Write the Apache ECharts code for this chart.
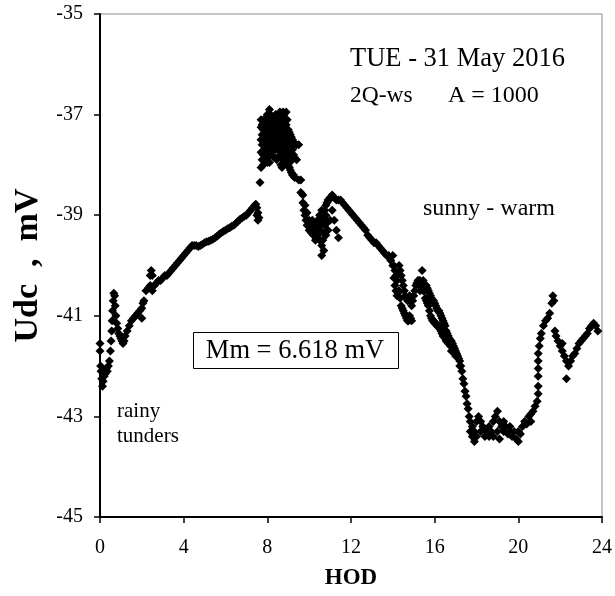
<!DOCTYPE html>
<html>
<head>
<meta charset="utf-8">
<script src="https://cdn.jsdelivr.net/npm/echarts@6/dist/echarts.min.js"></script>
<style>
  html, body { margin: 0; padding: 0; background: #fff; }
  #chart { width: 615px; height: 596px; }
</style>
</head>
<body>
<div id="chart"></div>
<script>
// Hour of day for each group of readings
const hod = [
  0, 0.03, 0.05, 0.08, 0.12, 0.15, 0.2, 0.25, 0.3, 0.35,
  0.4, 0.45, 0.5, 0.53, 0.56, 0.58, 0.6, 0.63, 0.66, 0.7,
  0.73, 0.76, 0.8, 0.85, 0.9, 0.95, 1.0, 1.05, 1.1, 1.15,
  1.2, 1.3, 1.4, 1.5, 1.6, 1.7, 1.8, 1.9, 2.0, 2.05,
  2.1, 2.2, 2.3, 2.4, 2.45, 2.5, 2.6, 2.7, 2.8, 2.9,
  3.0, 3.1, 3.2, 3.3, 3.4, 3.5, 3.6, 3.7, 3.8, 3.9,
  4.0, 4.1, 4.2, 4.3, 4.4, 4.5, 4.6, 4.7, 4.8, 4.9,
  5.0, 5.1, 5.2, 5.3, 5.4, 5.5, 5.6, 5.7, 5.8, 5.9,
  6.0, 6.1, 6.2, 6.3, 6.4, 6.5, 6.6, 6.7, 6.8, 6.9,
  7.0, 7.1, 7.2, 7.3, 7.4, 7.45, 7.5, 7.55, 7.6, 7.65,
  7.7, 7.75, 7.8, 7.85, 7.9, 7.95, 8.0, 8.05, 8.1, 8.15,
  8.2, 8.25, 8.3, 8.35, 8.4, 8.45, 8.5, 8.55, 8.6, 8.65,
  8.7, 8.75, 8.8, 8.85, 8.9, 8.95, 9.0, 9.05, 9.1, 9.15,
  9.2, 9.25, 9.3, 9.4, 9.5,
  9.6, 9.7, 9.75, 9.8, 9.85, 9.9, 10.0, 10.1, 10.2, 10.3,
  10.4, 10.5, 10.6, 10.7, 10.8, 10.9, 11.0, 11.1, 11.2, 11.3,
  11.4, 11.5, 11.6, 11.7, 11.8, 11.9, 12.0, 12.1, 12.2, 12.3,
  12.4, 12.5, 12.6, 12.7, 12.8, 12.9, 13.0, 13.1, 13.2, 13.3,
  13.4, 13.5, 13.6, 13.7, 13.8, 13.9, 14.0, 14.1, 14.2, 14.3,
  14.4, 14.5, 14.6, 14.7, 14.8, 14.9, 15.0, 15.1, 15.2, 15.3,
  15.4, 15.5, 15.6, 15.7, 15.8, 15.9, 16.0, 16.1, 16.2, 16.3,
  16.4, 16.5, 16.6, 16.7, 16.8, 16.9, 17.0, 17.1, 17.2, 17.3,
  17.35, 17.4, 17.45, 17.5, 17.55, 17.6, 17.65, 17.7, 17.8, 17.9,
  18.0, 18.1, 18.2, 18.3, 18.4, 18.5, 18.6, 18.7, 18.8, 18.9,
  19.0, 19.1, 19.2, 19.3, 19.4, 19.5, 19.6, 19.7, 19.8, 19.9,
  20.0, 20.1, 20.2, 20.3, 20.4, 20.5, 20.6, 20.7, 20.8, 20.9,
  20.95, 21.0, 21.05, 21.1, 21.2, 21.3, 21.4, 21.5, 21.6, 21.65,
  21.7, 21.75, 21.8, 21.9, 22.0, 22.1, 22.2, 22.3, 22.4, 22.5,
  22.6, 22.7, 22.8, 22.9, 23.0, 23.1, 23.2, 23.3, 23.4, 23.5,
  23.6, 23.7, 23.8
];

// Udc readings (mV) taken at each hour above
const udc = [
  [-41.55, -41.7], [-42.0], [-42.1], [-42.25], [-42.4], [-42.3], [-42.2], [-42.15], [-42.05], [-42.1],
  [-42.0], [-41.9], [-41.7], [-41.5], [-41.3], [-41.1], [-40.9], [-40.7], [-40.55], [-40.6],
  [-40.8], [-41.0], [-41.15], [-41.25], [-41.35], [-41.4], [-41.45], [-41.5], [-41.55], [-41.5],
  [-41.4], [-41.3], [-41.2], [-41.1], [-41.05], [-41.0], [-40.95], [-40.9], [-40.85, -41.05], [-40.75],
  [-40.7], [-40.5], [-40.45], [-40.4, -40.2], [-40.1], [-40.2, -40.5], [-40.4], [-40.35], [-40.3], [-40.3],
  [-40.25], [-40.2], [-40.2], [-40.15], [-40.1], [-40.05], [-40.0], [-39.95], [-39.9], [-39.85],
  [-39.8], [-39.75], [-39.7], [-39.65], [-39.6], [-39.6], [-39.6], [-39.62], [-39.6], [-39.58],
  [-39.55], [-39.53], [-39.52], [-39.5], [-39.48], [-39.45], [-39.42], [-39.38], [-39.35], [-39.32],
  [-39.3], [-39.27], [-39.25], [-39.22], [-39.2], [-39.16], [-39.12], [-39.08], [-39.05], [-39.02],
  [-39.0], [-38.95], [-38.9], [-38.85], [-38.8], [-38.78], [-38.85, -39.0], [-38.95, -39.1], [-39.05], [-38.35],
  [-38.05, -37.75, -37.5, -37.25, -37.1], [-37.2, -37.4, -37.6, -37.9], [-37.2, -37.3, -37.5, -37.8, -38.0],
  [-37.15, -37.45, -37.7], [-37.1, -37.35, -37.6, -37.9], [-37.05, -37.3, -37.55, -37.8],
  [-37.0, -37.25, -37.45, -37.7, -37.95], [-37.1, -37.35, -37.6, -37.85], [-36.9, -37.2, -37.4, -37.65, -37.95],
  [-37.0, -37.3, -37.55, -37.75],
  [-37.05, -37.3, -37.5, -37.8], [-37.2, -37.45, -37.7], [-37.15, -37.35, -37.6, -37.85],
  [-37.05, -37.3, -37.5], [-37.0, -37.25, -37.45, -37.7], [-37.15, -37.4, -37.65, -37.9],
  [-37.05, -37.3, -37.55, -37.85], [-37.0, -37.2, -37.45, -37.7], [-36.95, -37.15, -37.4, -37.6],
  [-37.05, -37.25, -37.5, -37.75, -38.0],
  [-37.1, -37.3, -37.55, -37.8, -38.05], [-36.95, -37.2, -37.4, -37.65, -37.9], [-37.0, -37.25, -37.45, -37.7, -37.95],
  [-37.1, -37.35, -37.6, -37.85], [-36.95, -37.2, -37.5, -37.75], [-37.1, -37.35, -37.6, -37.9],
  [-37.3, -37.5, -37.7, -38.0], [-37.35, -37.55, -37.8, -38.05], [-37.4, -37.6, -37.85, -38.1],
  [-37.45, -37.65, -37.9, -38.15],
  [-37.5, -37.7, -37.9, -38.2], [-37.55, -37.8, -38.2], [-37.6, -37.85, -38.25], [-37.6, -37.9], [-37.6, -38.3],
  [-38.3, -38.55], [-38.6, -38.75], [-38.9], [-39.0, -38.8], [-39.1], [-39.2, -38.95], [-39.3, -39.1], [-39.35, -39.2], [-39.4, -39.2], [-39.3, -39.5],
  [-39.2, -39.4, -39.1], [-39.5, -39.3, -39.0], [-39.8, -39.6, -39.2, -38.9], [-39.7, -39.35, -39.05], [-39.4, -39.0, -38.8],
  [-39.3, -38.7], [-39.1, -38.65], [-38.6, -38.9], [-38.65, -39.1], [-38.7, -39.3],
  [-38.7, -39.45], [-38.7], [-38.75], [-38.8], [-38.85], [-38.9], [-38.95], [-39.0], [-39.05], [-39.1],
  [-39.15], [-39.2], [-39.25], [-39.3], [-39.4], [-39.45], [-39.5], [-39.55], [-39.55], [-39.6],
  [-39.65], [-39.7], [-39.75], [-39.8], [-39.8], [-39.9], [-39.8, -40.0], [-40.1, -40.4], [-40.3, -40.6], [-40.0, -40.5],
  [-40.2, -40.8], [-40.4, -40.9], [-40.6, -41.0], [-40.7, -41.1], [-40.6, -41.0], [-40.8, -41.1], [-40.6], [-40.4], [-40.3], [-40.3, -40.5],
  [-40.1, -40.45], [-40.5], [-40.4, -40.7], [-40.5, -40.8], [-40.6, -41.0], [-40.7, -41.1], [-40.75, -41.15], [-40.85, -41.2], [-40.9, -41.2], [-41.0, -41.3],
  [-41.1, -41.4], [-41.2, -41.45], [-41.35, -41.5], [-41.45], [-41.5, -41.7], [-41.6], [-41.7, -41.8], [-41.8], [-41.9, -42.0], [-42.1],
  [-42.25], [-42.35], [-42.5], [-42.6], [-42.75], [-42.85], [-43.0], [-43.1, -43.3], [-43.4, -43.2], [-43.5, -43.3],
  [-43.1, -43.4], [-43.0], [-43.1, -43.3], [-43.2], [-43.25, -43.4], [-43.3], [-43.4, -43.2], [-43.3], [-43.1, -43.4], [-43.0],
  [-42.9, -43.3], [-43.1, -43.45], [-43.2], [-43.3, -43.1], [-43.2], [-43.35], [-43.3, -43.2], [-43.4], [-43.3], [-43.45],
  [-43.5, -43.3], [-43.35], [-43.2], [-43.1], [-43.15], [-43.0], [-42.95, -43.1], [-42.9], [-42.8], [-42.7],
  [-42.55, -42.4, -42.2, -42.05, -41.9, -41.75], [-41.6], [-41.45], [-41.35], [-41.2], [-41.1], [-41.05], [-40.95], [-40.75], [-40.6],
  [-40.7], [-41.3], [-41.4], [-41.5], [-41.6], [-41.7, -41.55], [-41.8], [-41.9, -42.25], [-42.0], [-41.9],
  [-41.8], [-41.75], [-41.65], [-41.55], [-41.5], [-41.45], [-41.4], [-41.35], [-41.25], [-41.2],
  [-41.15], [-41.2], [-41.3]
];

// In-between readings logged during the late-morning dip and the afternoon decline
const hodMid = [
  10.05, 10.15, 10.25, 10.35, 10.45, 10.55, 10.65, 10.75, 10.85, 10.95,
  14.05, 14.15, 14.25, 14.35, 14.45, 14.55, 14.65, 14.75, 14.85, 14.95,
  15.05, 15.15, 15.25, 15.35, 15.45, 15.55, 15.65, 15.75, 15.85, 15.95,
  16.05, 16.15, 16.25, 16.35, 16.45, 16.55, 16.65, 16.75, 16.85, 16.95,
  17.05, 17.15, 17.25
];
const udcMid = [
  [-39.25], [-39.3, -39.1], [-39.35], [-39.25, -39.45], [-39.35, -39.15], [-39.5, -39.05], [-39.5, -39.1], [-39.2, -38.9], [-39.15, -38.75], [-38.7],
  [-40.0, -40.25], [-40.2, -40.5], [-40.15, -40.55], [-40.1, -40.65], [-40.3, -40.85], [-40.5, -40.95], [-40.65, -41.05], [-40.65, -41.1], [-40.7, -41.05], [-40.7],
  [-40.5], [-40.35], [-40.3], [-40.4], [-40.3, -40.5], [-40.45, -40.65], [-40.45, -40.75], [-40.55, -40.9], [-40.65, -41.05], [-40.7, -41.1],
  [-40.8, -41.15], [-40.9, -41.2], [-40.95, -41.25], [-41.05, -41.35], [-41.15, -41.4], [-41.3, -41.5], [-41.4, -41.55], [-41.5, -41.6], [-41.55, -41.7], [-41.65, -41.75],
  [-41.75], [-41.85], [-42.0]
];

// Axis settings
const xTicks = { min: 0, max: 24, step: 4 };
const yTicks = { min: -45, max: -35, step: 2 };

const points = [];
function addReadings(hours, values) {
  hours.forEach((h, i) => {
    (values[i] || []).forEach(v => points.push([h, v]));
  });
}
addReadings(hod, udc);
addReadings(hodMid, udcMid);

const serif = "'Liberation Serif', 'Times New Roman', serif";
const chart = echarts.init(document.getElementById('chart'), null, { renderer: 'canvas' });

function label(text, x, y, size, extra) {
  return Object.assign({
    type: 'text', x: x, y: y, z: 10,
    style: { text: text, font: size + 'px ' + serif, fill: '#000', verticalAlign: 'top' }
  }, extra || {});
}

chart.setOption({
  animation: false,
  backgroundColor: '#ffffff',
  grid: {
    left: 100, top: 14, right: 10, bottom: 79,
    show: true, borderColor: '#8a8a8a', borderWidth: 1, backgroundColor: 'transparent'
  },
  xAxis: {
    type: 'value',
    min: xTicks.min, max: xTicks.max, interval: xTicks.step,
    name: 'HOD',
    nameLocation: 'middle',
    nameGap: 50,
    nameTextStyle: { fontFamily: serif, fontWeight: 'bold', fontSize: 23, color: '#000' },
    axisLine: { onZero: false, lineStyle: { color: '#000', width: 2 } },
    axisTick: { inside: false, length: 6, lineStyle: { color: '#000', width: 1.5 } },
    axisLabel: { fontFamily: serif, fontSize: 20, color: '#000', margin: 21 },
    splitLine: { show: false }
  },
  yAxis: {
    type: 'value',
    min: yTicks.min, max: yTicks.max, interval: yTicks.step,
    name: 'Udc  ,  mV',
    nameLocation: 'middle',
    nameRotate: 90,
    nameGap: 55,
    nameTextStyle: { fontFamily: serif, fontWeight: 'bold', fontSize: 34, color: '#000' },
    axisLine: { onZero: false, lineStyle: { color: '#000', width: 2 } },
    axisTick: { inside: false, length: 6, lineStyle: { color: '#000', width: 1.5 } },
    axisLabel: { fontFamily: serif, fontSize: 20, color: '#000', margin: 17 },
    splitLine: { show: false }
  },
  series: [{
    type: 'scatter',
    data: points,
    symbol: 'diamond',
    symbolSize: 9,
    itemStyle: { color: '#000', opacity: 1 },
    silent: true
  }],
  graphic: [
    label('TUE - 31 May 2016', 350, 46, 26.5),
    label('2Q-ws', 350, 84, 23.5),
    label('A = 1000', 448, 84, 24),
    label('sunny - warm', 423, 197, 24),
    label('rainy', 117, 401, 21),
    label('tunders', 117, 426, 21),
    { type: 'rect', z: 9, shape: { x: 193.5, y: 332.5, width: 205, height: 36 }, style: { fill: '#fff', stroke: '#000', lineWidth: 1 } },
    { type: 'text', x: 295, y: 351, z: 10, style: { text: 'Mm = 6.618 mV', font: '26.5px ' + serif, fill: '#000', align: 'center', verticalAlign: 'middle' } }
  ]
});
</script>
</body>
</html>
